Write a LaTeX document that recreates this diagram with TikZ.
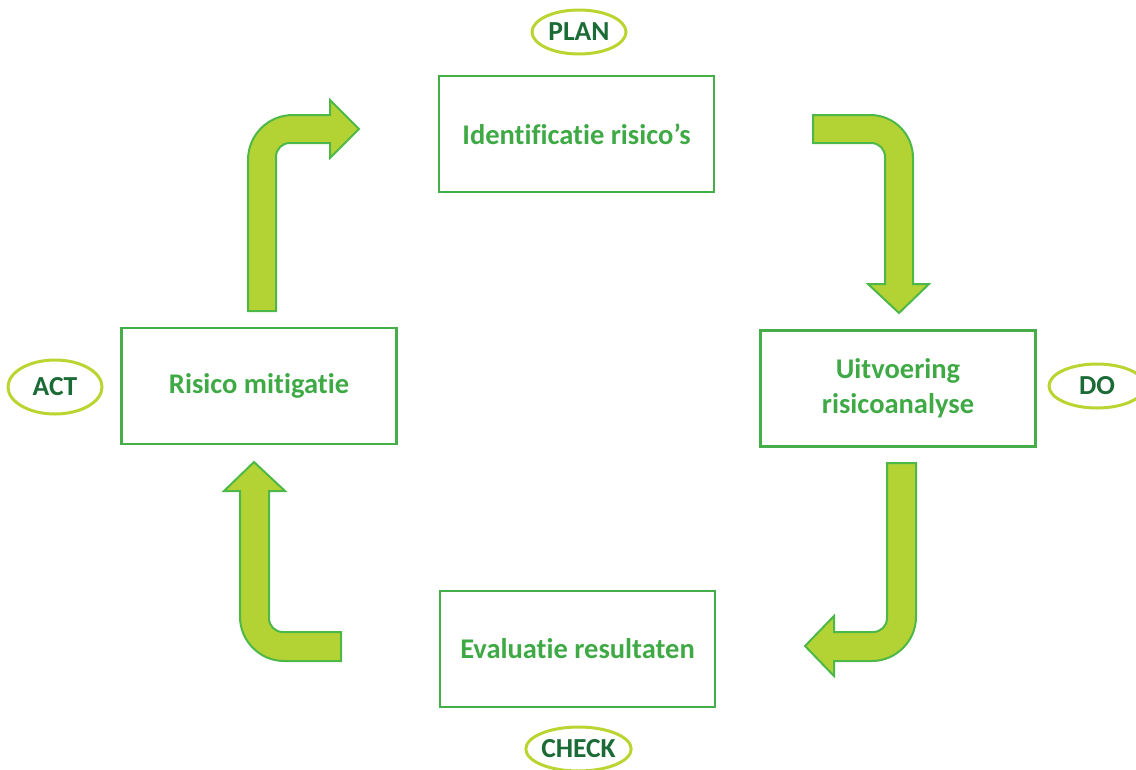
\documentclass[tikz,border=0pt]{standalone}
\usepackage{fontspec}
\setmainfont[Ligatures=NoCommon,RawFeature={-liga;-dlig}]{Carlito}
\usetikzlibrary{shapes.geometric}
\definecolor{boxgreen}{HTML}{45AE48}
\definecolor{textgreen}{HTML}{3FAA45}
\definecolor{darkgreen}{HTML}{1B6B36}
\definecolor{limering}{HTML}{BAD532}
\definecolor{arrowfill}{HTML}{B3D335}
\definecolor{arrowedge}{HTML}{4DB848}
\begin{document}
\begin{tikzpicture}[x=1pt,y=-1pt,
  stepbox/.style={draw=boxgreen,line width=2.5pt,rectangle,minimum width=275pt,minimum height=116pt,
    inner sep=0pt,align=center,text=textgreen,font=\fontsize{28.5}{35}\selectfont\bfseries},
  phase/.style={draw=limering,line width=3pt,ellipse,inner sep=0pt,minimum width=94pt,minimum height=44pt,
    text=darkgreen,font=\fontsize{27.5}{32}\selectfont\bfseries},
  blockarrow/.style={fill=arrowfill,draw=arrowedge,line width=2pt,line join=miter}]
\useasboundingbox (0,0) rectangle (1136,769);

% process steps
\node[stepbox] (plan) at (576.5,134) {Identificatie risico’s};
\node[stepbox] (do) at (898,388.5) {Uitvoering\\risicoanalyse};
\node[stepbox] (check) at (577.5,649) {Evaluatie resultaten};
\node[stepbox] (act) at (259,386) {Risico mitigatie};

% phase labels
\node[phase] (lplan) at (579,32) {PLAN};
\node[phase,minimum height=54pt] (lact) at (55,387) {ACT};
\node[phase,minimum width=96pt] (ldo) at (1097,386) {DO};
\node[phase,minimum width=105pt] (lcheck) at (578.5,749) {CHECK};

% bent block arrows between the steps
% act -> plan
\draw[blockarrow] (248,311) -- (248,160) .. controls (248,135) and (268,115) .. (293,115)
  -- (330,115) -- (330,100) -- (359,129) -- (330,158) -- (330,143) -- (290,143)
  .. controls (282,143) and (276,149) .. (276,157) -- (276,311) -- cycle;
% plan -> do
\draw[blockarrow] (813,115) -- (870,115) .. controls (894,115) and (913,134) .. (913,158)
  -- (913,284) -- (929,284) -- (899,313) -- (868,284) -- (885,284) -- (885,157)
  .. controls (885,149) and (879,143) .. (871,143) -- (813,143) -- cycle;
% do -> check
\draw[blockarrow] (887,463) -- (916,463) -- (916,617) .. controls (916,641) and (896,661) .. (872,661)
  -- (834,661) -- (834,676) -- (805,646) -- (834,616) -- (834,632) -- (873,632)
  .. controls (881,632) and (887,626) .. (887,618) -- cycle;
% check -> act
\draw[blockarrow] (341,632) -- (341,661) -- (284,661) .. controls (260,661) and (240,641) .. (240,617)
  -- (240,491) -- (224,491) -- (254,462) -- (285,491) -- (269,491) -- (269,618)
  .. controls (269,626) and (275,632) .. (283,632) -- cycle;
\end{tikzpicture}
\end{document}
